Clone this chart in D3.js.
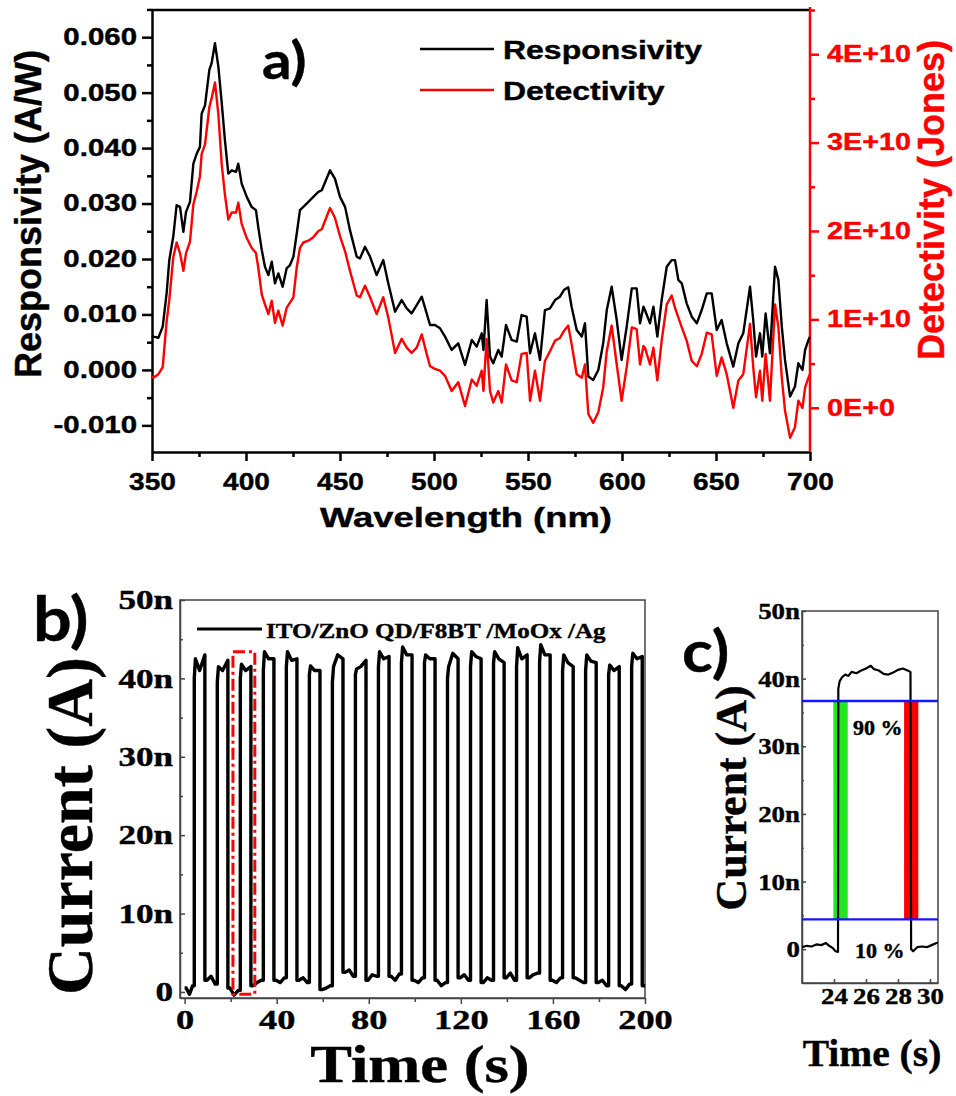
<!DOCTYPE html>
<html lang="en">
<head>
<meta charset="UTF-8">
<title>Photodetector spectra and switching</title>
<style>
  body { margin: 0; background: #fff; }
  svg  { display: block; }
</style>
</head>
<body>
<svg id="fig" width="956" height="1096"></svg>

<script src="https://cdn.jsdelivr.net/npm/d3@7"></script>
<script>
/* ---------------- a) spectral data (read off the figure) ---------------- */
const wavelength = [
  350.0, 350.7, 353.4, 355.7, 357.8, 359.2, 361.3, 363.1, 364.9, 366.7,
  368.1, 370.2, 372.0, 373.8, 375.5, 376.4, 378.2, 380.5, 381.7, 383.5,
  385.3, 387.1, 388.8, 390.6, 392.4, 394.7, 395.9, 397.7, 400.4, 403.0,
  405.3, 406.5, 408.4, 410.1, 411.9, 413.7, 415.4, 417.2, 419.5, 421.6,
  423.4, 425.2, 427.0, 428.7, 430.5, 433.2, 435.8, 438.5, 440.3, 444.7,
  447.3, 450.0, 452.7, 455.3, 458.9, 460.6, 463.3, 466.0, 469.5, 473.0,
  475.7, 479.3, 482.8, 485.5, 488.1, 490.8, 493.5, 496.1, 497.9, 500.5,
  503.2, 505.9, 509.4, 512.9, 516.5, 520.1, 522.7, 525.4, 526.3, 528.0,
  529.8, 531.5, 534.2, 536.0, 538.3, 541.3, 544.0, 546.6, 549.3, 551.1,
  553.7, 556.4, 559.0, 561.7, 564.4, 567.0, 569.1, 571.4, 573.2, 575.9,
  578.6, 580.3, 582.1, 584.7, 587.4, 590.0, 591.9, 594.5, 597.2, 599.8,
  602.5, 605.2, 607.8, 609.6, 611.4, 612.2, 614.9, 616.7, 618.8, 621.1,
  623.8, 626.4, 628.2, 630.0, 631.8, 634.4, 637.1, 639.8, 642.4, 645.1,
  647.7, 650.4, 653.0, 655.7, 659.2, 661.9, 664.5, 668.1, 669.8, 671.3,
  673.4, 674.6, 676.4, 678.7, 681.4, 683.2, 685.0, 686.7, 689.4, 692.0,
  693.8, 696.0, 697.4, 699.2, 700.0
];
const responsivity = [   // A/W
  0.0062, 0.0060, 0.0058, 0.0078, 0.0139, 0.0198, 0.0240, 0.0297, 0.0294, 0.0249,
  0.0285, 0.0303, 0.0372, 0.0390, 0.0402, 0.0462, 0.0477, 0.0541, 0.0553, 0.0589,
  0.0547, 0.0481, 0.0414, 0.0354, 0.0360, 0.0357, 0.0372, 0.0336, 0.0312, 0.0294,
  0.0288, 0.0258, 0.0216, 0.0186, 0.0171, 0.0195, 0.0156, 0.0174, 0.0150, 0.0183,
  0.0189, 0.0204, 0.0246, 0.0288, 0.0294, 0.0303, 0.0312, 0.0321, 0.0324, 0.0360,
  0.0345, 0.0312, 0.0294, 0.0252, 0.0204, 0.0201, 0.0222, 0.0204, 0.0171, 0.0198,
  0.0156, 0.0105, 0.0126, 0.0111, 0.0102, 0.0117, 0.0132, 0.0102, 0.0081, 0.0081,
  0.0075, 0.0060, 0.0036, 0.0048, 0.0009, 0.0054, 0.0042, 0.0066, 0.0036, 0.0126,
  0.0024, 0.0012, 0.0036, 0.0024, 0.0081, 0.0054, 0.0051, 0.0099, 0.0096, 0.0030,
  0.0066, 0.0018, 0.0108, 0.0111, 0.0126, 0.0132, 0.0144, 0.0149, 0.0114, 0.0072,
  0.0060, 0.0084, -0.0012, -0.0018, 0.0000, 0.0048, 0.0108, 0.0150, 0.0090, 0.0018,
  0.0078, 0.0147, 0.0147, 0.0084, 0.0114, 0.0108, 0.0084, 0.0114, 0.0060, 0.0126,
  0.0186, 0.0198, 0.0198, 0.0162, 0.0156, 0.0120, 0.0096, 0.0084, 0.0108, 0.0138,
  0.0138, 0.0072, 0.0090, 0.0048, 0.0006, 0.0048, 0.0066, 0.0150, 0.0090, 0.0024,
  0.0066, 0.0024, 0.0102, 0.0030, 0.0186, 0.0162, 0.0078, 0.0018, -0.0048, -0.0030,
  0.0012, 0.0000, 0.0036, 0.0054, 0.0060
];
const detectivity = [    // x 1E+10 Jones
  0.36, 0.34, 0.38, 0.46, 0.98, 1.22, 1.70, 1.87, 1.75, 1.55,
  1.75, 1.88, 2.30, 2.45, 2.62, 2.87, 2.98, 3.40, 3.50, 3.68,
  3.32, 2.75, 2.41, 2.13, 2.21, 2.21, 2.32, 2.08, 1.92, 1.81,
  1.75, 1.59, 1.28, 1.17, 1.06, 1.21, 0.96, 1.10, 0.93, 1.13,
  1.19, 1.25, 1.59, 1.81, 1.87, 1.89, 1.93, 2.00, 2.02, 2.26,
  2.15, 1.94, 1.77, 1.55, 1.27, 1.25, 1.38, 1.25, 1.06, 1.25,
  1.02, 0.62, 0.78, 0.68, 0.62, 0.68, 0.83, 0.61, 0.47, 0.44,
  0.42, 0.36, 0.19, 0.29, 0.02, 0.32, 0.25, 0.42, 0.19, 0.78,
  0.19, 0.06, 0.19, 0.06, 0.49, 0.31, 0.29, 0.61, 0.62, 0.08,
  0.42, 0.08, 0.53, 0.64, 0.76, 0.79, 0.87, 0.93, 0.72, 0.38,
  0.34, 0.49, -0.07, -0.17, -0.05, 0.23, 0.64, 0.93, 0.49, 0.08,
  0.46, 0.91, 0.89, 0.49, 0.70, 0.68, 0.49, 0.68, 0.31, 0.76,
  1.17, 1.27, 1.13, 1.02, 0.91, 0.76, 0.53, 0.47, 0.61, 0.85,
  0.83, 0.36, 0.57, 0.38, 0.00, 0.31, 0.38, 0.95, 0.46, 0.12,
  0.42, 0.08, 0.61, 0.08, 1.17, 0.91, 0.34, -0.03, -0.34, -0.22,
  0.08, 0.00, 0.23, 0.34, 0.38
];
const wlTicks    = [350, 400, 450, 500, 550, 600, 650, 700];
const respTicks  = [-0.01, 0, 0.01, 0.02, 0.03, 0.04, 0.05, 0.06];
const detTicks   = [0, 1, 2, 3, 4];

/* ---------------- b) on/off cycling (nA, s) ---------------- */
const pulseOn  = [4.2, 14.2, 24.2, 34.2, 44.2, 54.2, 64.2, 74.2, 84.2, 94.2,
                  104.2, 114.2, 124.2, 134.2, 144.2, 154.2, 164.2, 174.2, 184.2, 194.2];
const pulseOff = [8.8, 18.8, 28.8, 38.8, 48.8, 58.8, 68.8, 78.8, 88.8, 98.8,
                  108.8, 118.8, 128.8, 138.8, 148.8, 158.8, 168.8, 178.8, 188.8, 198.8];
// plateau levels per pulse: after rise, early, middle, before fall
const pulseLevels = [
  [40.0, 42.5, 41.0, 43.0], [39.5, 41.5, 41.0, 42.3], [40.0, 41.8, 41.0, 41.5],
  [41.0, 43.4, 42.5, 42.5], [41.5, 43.4, 42.3, 42.5], [40.5, 41.6, 41.0, 41.0],
  [39.5, 41.5, 43.0, 42.5], [40.5, 41.2, 41.5, 42.3], [41.5, 43.4, 42.5, 42.8],
  [42.0, 44.0, 43.0, 43.0], [42.0, 43.0, 42.5, 42.5], [40.0, 41.5, 43.2, 42.5],
  [41.5, 43.4, 42.8, 42.5], [42.0, 43.4, 42.5, 42.0], [41.5, 43.9, 42.5, 43.0],
  [42.0, 44.3, 43.0, 43.0], [41.0, 43.0, 42.0, 41.5], [41.0, 43.0, 42.2, 42.0],
  [40.5, 41.7, 41.0, 41.5], [41.5, 43.2, 42.5, 42.8]
];
// dark levels in each gap between pulses
const darkLevels = [
  [0.5, -0.3, 0.8], [1.5, 2.0, 1.0], [0.5, -0.4, 0.2], [0.8, 1.2, 1.5],
  [1.5, 1.2, 1.8], [1.5, 1.8, 1.2], [0.3, 0.5, 0.8], [2.5, 2.8, 2.0],
  [1.5, 2.2, 2.0], [2.0, 1.5, 2.3], [1.5, 1.2, 1.8], [1.5, 0.8, 1.2],
  [1.8, 2.2, 1.5], [1.2, 1.8, 1.5], [1.8, 2.4, 1.5], [1.8, 2.2, 2.4],
  [1.5, 1.2, 1.8], [1.8, 1.5, 1.2], [1.2, 1.5, 0.8], [0.8, 0.3, 1.0],
  [0.8, 0.8, 0.8]
];
const timeTicksB    = [0, 40, 80, 120, 160, 200];
const currentTicksB = [0, 10, 20, 30, 40, 50];
const zoomWindow    = [21, 30.5, -0.3, 43.4];   // t0, t1, i0, i1 of the red box

/* ---------------- c) single pulse (nA, s) ---------------- */
const cTime = [22.0, 22.3, 22.6, 22.9, 23.2, 23.5, 23.7, 23.9, 24.1, 24.25,
               24.27, 24.35, 24.5, 24.7, 24.9, 25.1, 25.4, 25.7, 26.0, 26.3,
               26.5, 26.8, 27.1, 27.4, 27.7, 28.0, 28.3, 28.6, 28.78, 28.82,
               28.95, 29.2, 29.5, 29.8, 30.1, 30.5];
const cCurrent = [0.3, 0.5, 0.4, 0.7, 0.6, 0.9, 0.5, 0.2, -0.3, -0.4,
                  38.5, 39.6, 40.2, 40.6, 40.4, 41.0, 40.8, 41.2, 41.5, 41.9,
                  41.4, 41.2, 40.7, 40.6, 40.9, 41.3, 41.5, 41.2, 41.0, 0.0,
                  -0.3, 0.3, 0.4, 0.3, 0.6, 1.0];
const timeTicksC = [24, 26, 28, 30];
const level90 = 36.7, level10 = 4.4;
const riseBand = [23.96, 24.86], fallBand = [28.38, 29.27];

/* ---------------- helpers ---------------- */
const SANS  = "'Liberation Sans', Arial, sans-serif";
const SERIF = "'Liberation Serif', 'Times New Roman', serif";
const TAG   = "Lato, 'Open Sans', sans-serif";

const svg = d3.select('#fig');

function label(parent, txt, x, y, o) {
  const c = o.color || '#000';
  return parent.append('text')
    .attr('transform', `translate(${x},${y}) scale(${o.sx || 1},1)` + (o.rot ? ` rotate(${o.rot})` : ''))
    .attr('text-anchor', o.anchor || 'start')
    .style('font-family', o.font).style('font-weight', 'bold')
    .style('font-size', o.size + 'px').attr('fill', c)
    .attr('stroke', c).attr('stroke-width', o.heavy || 0.4)
    .text(txt);
}

function styleAxis(g, font, size, color, sx, width) {
  g.selectAll('path, line').attr('stroke', color).attr('stroke-width', width);
  g.selectAll('text')
    .style('font-family', font).style('font-weight', 'bold').style('font-size', size + 'px')
    .attr('fill', color).attr('stroke', color).attr('stroke-width', 0.4)
    .each(function () {
      const t = d3.select(this);
      t.attr('x', (+t.attr('x') || 0) / sx).attr('transform', `scale(${sx},1)`);
    });
}

/* ================= panel a ================= */
const pa = svg.append('g');
const ax  = d3.scaleLinear().domain([350, 700]).range([152, 810]);
const ayR = d3.scaleLinear().domain([-0.0148, 0.0649]).range([452, 10]);
const ayD = d3.scaleLinear().domain([-0.5, 4.5]).range([452, 10]);

pa.append('line').attr('x1', 152).attr('x2', 810).attr('y1', 10).attr('y2', 10)
  .attr('stroke', '#000').attr('stroke-width', 2.5);

const aBottom = pa.append('g').attr('transform', 'translate(0,452)')
  .call(d3.axisBottom(ax).tickValues(wlTicks).tickSize(9).tickSizeOuter(0).tickPadding(12).tickFormat(d3.format('d')));
pa.append('g').attr('transform', 'translate(0,452)')
  .call(d3.axisBottom(ax).tickValues(wlTicks.slice(0, -1).map(d => d + 25)).tickSize(5).tickSizeOuter(0).tickFormat(''))
  .call(g => g.select('.domain').remove())
  .selectAll('line').attr('stroke', '#000').attr('stroke-width', 2.5);
styleAxis(aBottom, SANS, 24, '#000', 1.17, 2.5);

const aLeft = pa.append('g').attr('transform', 'translate(152,0)')
  .call(d3.axisLeft(ayR).tickValues(respTicks).tickSize(10).tickSizeOuter(0).tickPadding(5).tickFormat(d => d.toFixed(3)));
pa.append('g').attr('transform', 'translate(152,0)')
  .call(d3.axisLeft(ayR).tickValues(respTicks.map(d => d + 0.005)).tickSize(5).tickSizeOuter(0).tickFormat(''))
  .call(g => g.select('.domain').remove())
  .selectAll('line').attr('stroke', '#000').attr('stroke-width', 2.5);
styleAxis(aLeft, SANS, 23, '#000', 1.28, 2.5);

const aRight = pa.append('g').attr('transform', 'translate(810,0)')
  .call(d3.axisRight(ayD).tickValues(detTicks).tickSize(9).tickSizeOuter(0).tickPadding(8)
    .tickFormat(d => d === 0 ? '0E+0' : d + 'E+10'));
pa.append('g').attr('transform', 'translate(810,0)')
  .call(d3.axisRight(ayD).tickValues(detTicks.map(d => d + 0.5)).tickSize(5).tickSizeOuter(0).tickFormat(''))
  .call(g => g.select('.domain').remove())
  .selectAll('line').attr('stroke', '#f00').attr('stroke-width', 2.5);
styleAxis(aRight, SANS, 23, '#f00', 1.25, 2.5);
aRight.select('.domain').attr('d', 'M0,7V452');

const specIdx = d3.range(wavelength.length);
pa.append('path').datum(specIdx)
  .attr('fill', 'none').attr('stroke', '#f00').attr('stroke-width', 2.4).attr('stroke-linejoin', 'round')
  .attr('d', d3.line().x(i => ax(wavelength[i])).y(i => ayD(detectivity[i])));
pa.append('path').datum(specIdx)
  .attr('fill', 'none').attr('stroke', '#000').attr('stroke-width', 2.4).attr('stroke-linejoin', 'round')
  .attr('d', d3.line().x(i => ax(wavelength[i])).y(i => ayR(responsivity[i])));

// legend
[['Responsivity', '#000', 49], ['Detectivity', '#f00', 90]].forEach(([name, c, y]) => {
  pa.append('line').attr('x1', 420).attr('x2', 494).attr('y1', y).attr('y2', y)
    .attr('stroke', c).attr('stroke-width', 2.6);
  label(pa, name, 503, y + 10, { font: SANS, size: 26, sx: 1.23 });
});

label(pa, 'a)', 262, 79, { font: TAG, size: 52, sx: 1.12 });
label(pa, 'Wavelength (nm)', 466, 527, { font: SANS, size: 28, sx: 1.3, anchor: 'middle' });
label(pa, 'Responsivity (A/W)', 41, 214, { font: SANS, size: 36, sx: 1.05, rot: -90, anchor: 'middle' });
label(pa, 'Detectivity (Jones)', 944, 200, { font: SANS, size: 36, sx: 1.05, rot: -90, anchor: 'middle', color: '#f00' });

/* ================= panel b ================= */
const pb = svg.append('g');
const bx = d3.scaleLinear().domain([-2, 200]).range([180, 645]);
const by = d3.scaleLinear().domain([-0.77, 50]).range([998, 600]);

svg.append('clipPath').attr('id', 'clipB')
  .append('rect').attr('x', 180).attr('y', 600).attr('width', 465).attr('height', 398);

pb.append('rect').attr('x', 180).attr('y', 600).attr('width', 465).attr('height', 398)
  .attr('fill', 'none').attr('stroke', '#444').attr('stroke-width', 1.5);

const bLeft = pb.append('g').attr('transform', 'translate(180,0)')
  .call(d3.axisLeft(by).tickValues(currentTicksB).tickSize(-5).tickSizeOuter(0).tickPadding(7)
    .tickFormat(d => d === 0 ? '0' : d + 'n'));
pb.append('g').attr('transform', 'translate(180,0)')
  .call(d3.axisLeft(by).tickValues(currentTicksB.slice(0, -1).map(d => d + 5)).tickSize(-3).tickSizeOuter(0).tickFormat(''))
  .call(g => g.select('.domain').remove())
  .selectAll('line').attr('stroke', '#444').attr('stroke-width', 1.5);
styleAxis(bLeft, SERIF, 27, '#000', 1.3, 1.5);
bLeft.selectAll('line, path').attr('stroke', '#444');

const bBottom = pb.append('g').attr('transform', 'translate(0,998)')
  .call(d3.axisBottom(bx).tickValues(timeTicksB).tickSize(6).tickSizeOuter(0).tickPadding(5));
pb.append('g').attr('transform', 'translate(0,998)')
  .call(d3.axisBottom(bx).tickValues(timeTicksB.slice(0, -1).map(d => d + 20)).tickSize(4).tickSizeOuter(0).tickFormat(''))
  .call(g => g.select('.domain').remove())
  .selectAll('line').attr('stroke', '#444').attr('stroke-width', 1.5);
styleAxis(bBottom, SERIF, 28, '#000', 1.3, 1.5);
bBottom.selectAll('line, path').attr('stroke', '#444');

// build the square-wave trace from the levels
const bTrace = [];
function darkRun(g, t0, t1) {
  const v = darkLevels[g];
  v.forEach((val, j) => bTrace.push([t0 + (t1 - t0) * (j + 0.5) / v.length, val]));
  bTrace.push([t1, v[v.length - 1]]);
}
bTrace.push([0, darkLevels[0][0]]);
darkRun(0, 0, pulseOn[0]);
pulseOn.forEach((on, k) => {
  const off = pulseOff[k], lv = pulseLevels[k];
  bTrace.push([on, lv[0]]);
  bTrace.push([on + 0.5, lv[1]]);
  bTrace.push([on + 2.3, lv[2]]);
  bTrace.push([off, lv[3]]);
  bTrace.push([off, darkLevels[k + 1][0]]);
  darkRun(k + 1, off, k + 1 < pulseOn.length ? pulseOn[k + 1] : 200);
});

pb.append('path').datum(bTrace).attr('clip-path', 'url(#clipB)')
  .attr('fill', 'none').attr('stroke', '#000').attr('stroke-width', 3.4).attr('stroke-linejoin', 'round')
  .attr('d', d3.line().x(d => bx(d[0])).y(d => by(d[1])));

pb.append('rect')
  .attr('x', bx(zoomWindow[0])).attr('y', by(zoomWindow[3]))
  .attr('width', bx(zoomWindow[1]) - bx(zoomWindow[0])).attr('height', by(zoomWindow[2]) - by(zoomWindow[3]))
  .attr('fill', 'none').attr('stroke', '#f00').attr('stroke-width', 3)
  .attr('stroke-dasharray', '12,4,3,4');

pb.append('line').attr('x1', 197).attr('x2', 262).attr('y1', 629).attr('y2', 629)
  .attr('stroke', '#000').attr('stroke-width', 3);
label(pb, 'ITO/ZnO QD/F8BT /MoOx /Ag', 266, 638, { font: SERIF, size: 22, sx: 1.14 });

label(pb, 'b)', 33, 641, { font: TAG, size: 62, sx: 1.1 });
label(pb, 'Current (A)', 92, 826, { font: SERIF, size: 66, rot: -90, anchor: 'middle' });
label(pb, 'Time (s)', 420, 1082, { font: SERIF, size: 53, sx: 1.18, anchor: 'middle' });

/* ================= panel c ================= */
const pc = svg.append('g');
const cx = d3.scaleLinear().domain([22, 30.5]).range([802, 938]);
const cy = d3.scaleLinear().domain([-5, 50]).range([983, 611]);

svg.append('clipPath').attr('id', 'clipC')
  .append('rect').attr('x', 802).attr('y', 611).attr('width', 136).attr('height', 372);

[[riseBand, '#22e822'], [fallBand, '#ff0000']].forEach(([band, c]) => {
  pc.append('rect')
    .attr('x', cx(band[0])).attr('width', cx(band[1]) - cx(band[0]))
    .attr('y', cy(level90)).attr('height', cy(level10) - cy(level90))
    .attr('fill', c);
});

pc.append('rect').attr('x', 802).attr('y', 611).attr('width', 136).attr('height', 372)
  .attr('fill', 'none').attr('stroke', '#444').attr('stroke-width', 1.5);

const cLeft = pc.append('g').attr('transform', 'translate(802,0)')
  .call(d3.axisLeft(cy).tickValues(currentTicksB).tickSize(-4).tickSizeOuter(0).tickPadding(2)
    .tickFormat(d => d === 0 ? '0' : d + 'n'));
pc.append('g').attr('transform', 'translate(802,0)')
  .call(d3.axisLeft(cy).tickValues(currentTicksB.slice(0, -1).map(d => d + 5)).tickSize(-2).tickSizeOuter(0).tickFormat(''))
  .call(g => g.select('.domain').remove())
  .selectAll('line').attr('stroke', '#444').attr('stroke-width', 1.2);
styleAxis(cLeft, SERIF, 24, '#000', 1.12, 1.5);
cLeft.selectAll('line, path').attr('stroke', '#444');

const cBottom = pc.append('g').attr('transform', 'translate(0,983)')
  .call(d3.axisBottom(cx).tickValues(timeTicksC).tickSize(-4).tickSizeOuter(0).tickPadding(4));
styleAxis(cBottom, SERIF, 24, '#000', 1.12, 1.5);
cBottom.selectAll('line, path').attr('stroke', '#444');

pc.append('path').datum(d3.range(cTime.length)).attr('clip-path', 'url(#clipC)')
  .attr('fill', 'none').attr('stroke', '#000').attr('stroke-width', 2.2).attr('stroke-linejoin', 'round')
  .attr('d', d3.line().x(i => cx(cTime[i])).y(i => cy(cCurrent[i])));

[level90, level10].forEach(v => {
  pc.append('line').attr('x1', 802).attr('x2', 938).attr('y1', cy(v)).attr('y2', cy(v))
    .attr('stroke', '#1414ff').attr('stroke-width', 2.4);
});

label(pc, '90 %', 853, 735, { font: SERIF, size: 20, sx: 1.1 });
label(pc, '10 %', 855, 958, { font: SERIF, size: 20, sx: 1.1 });

label(pc, 'c)', 682, 672, { font: TAG, size: 58, sx: 1.1 });
label(pc, 'Current (A)', 746, 798, { font: SERIF, size: 44, rot: -90, anchor: 'middle' });
label(pc, 'Time (s)', 872, 1066, { font: SERIF, size: 38, sx: 1.04, anchor: 'middle' });
</script>
</body>
</html>
